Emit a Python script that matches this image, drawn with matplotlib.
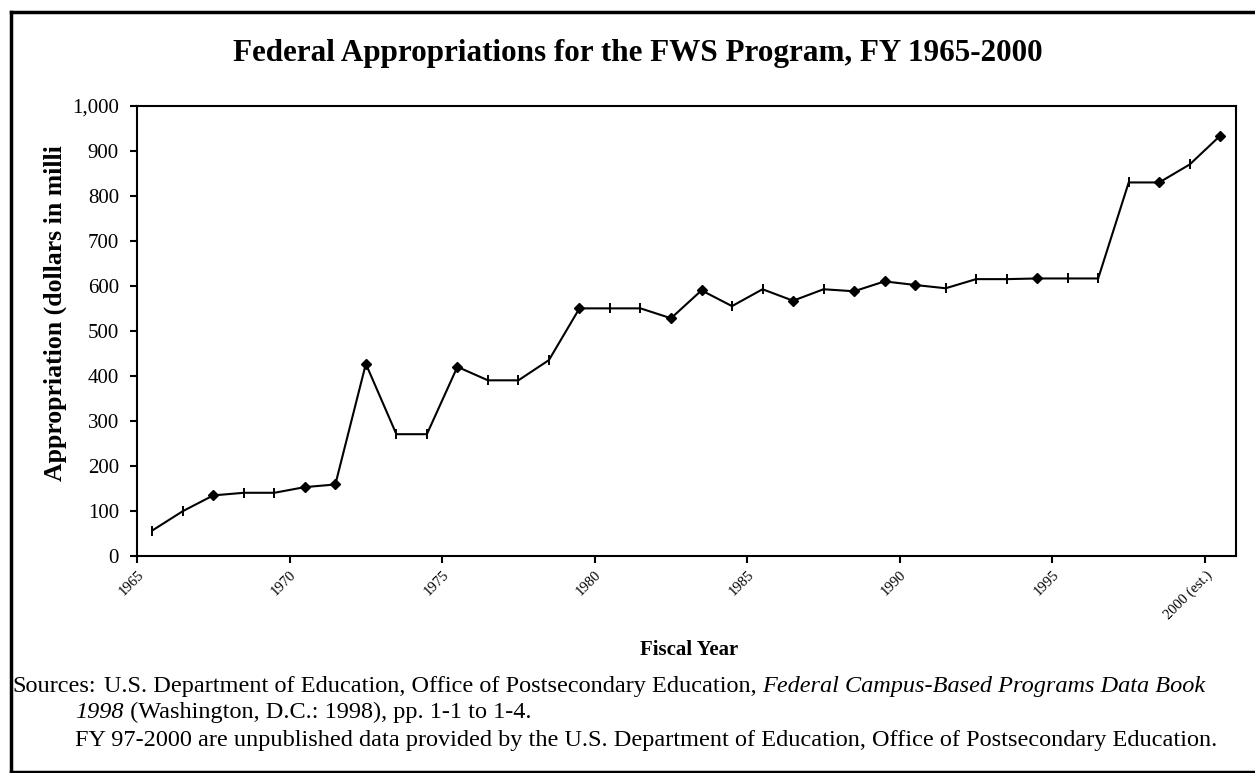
import matplotlib
matplotlib.use("Agg")
import matplotlib.pyplot as plt
from matplotlib.lines import Line2D

# ---- data ----
years = list(range(1965, 2001))
appropriations = [56, 99, 134.1, 139.9, 139.9, 152.5, 158.4, 426.6, 270.2, 270.2,
                  420, 390, 390, 435, 550, 550, 550, 528, 590, 555,
                  592.5, 567, 592.5, 588, 610, 602, 594.7, 615, 615, 616.5,
                  616.5, 616.5, 830, 830, 870, 934]
diamond_years = [1967, 1970, 1971, 1972, 1975, 1979, 1982, 1983, 1986, 1988,
                 1989, 1990, 1994, 1998, 2000]
tick_labels = ["1965", "1970", "1975", "1980", "1985", "1990", "1995", "2000 (est.)"]
label_years = [1965, 1970, 1975, 1980, 1985, 1990, 1995, 2000]
y_ticks = [0, 100, 200, 300, 400, 500, 600, 700, 800, 900, 1000]

title = "Federal Appropriations for the FWS Program, FY 1965-2000"
ylabel = "Appropriation (dollars in milli"
xlabel = "Fiscal Year"

plt.rcParams['font.family'] = ['Liberation Serif', 'DejaVu Serif']

W, H = 1255, 773
fig = plt.figure(figsize=(W / 100, H / 100), dpi=100)
fig.patch.set_facecolor("white")

left, right, top, bottom = 137, 1235.5, 106, 555.7
ax = fig.add_axes([left / W, 1 - bottom / H, (right - left) / W, (bottom - top) / H])

ax.plot(years, appropriations, color="black", lw=1.5, zorder=2)
d_x = [y for y in years if y in diamond_years]
d_v = [v for y, v in zip(years, appropriations) if y in diamond_years]
t_x = [y for y in years if y not in diamond_years]
t_v = [v for y, v in zip(years, appropriations) if y not in diamond_years]
ax.plot(d_x, d_v, linestyle="none", marker="D", ms=5, color="black", zorder=3)
ax.plot(t_x, t_v, linestyle="none", marker="|", ms=7, mew=1.4, color="black", zorder=3)

ax.set_xlim(1964.5, 2000.5)
ax.set_ylim(0, 1000)
ax.set_yticks(y_ticks)
ax.set_yticklabels([f"{v:,}" for v in y_ticks], fontsize=15)
ax.set_xticks([y - 0.5 for y in label_years])
ax.set_xticklabels(tick_labels, rotation=45, ha="right", va="top",
                   rotation_mode="anchor", fontsize=10.5)
ax.tick_params(axis="both", direction="out", length=5, width=1.5, color="black")
ax.tick_params(axis="y", pad=8)
ax.tick_params(axis="x", pad=4)
for s in ax.spines.values():
    s.set_linewidth(1.5)
    s.set_color("black")

fig.text(638 / W, 1 - 53 / H, title, ha="center", va="center",
         fontsize=22.4, fontweight="bold")
fig.text(55 / W, 1 - 313 / H, ylabel, ha="center", va="center",
         rotation=90, fontsize=18.5, fontweight="bold")
fig.text(689 / W, 1 - 650 / H, xlabel, ha="center", va="center",
         fontsize=15, fontweight="bold")

fs = 17.5
r = fig.canvas.get_renderer()
y1, y2, y3 = 1 - 692 / H, 1 - 718 / H, 1 - 746 / H
t0 = fig.text(12 / W, y1, "Sources:", ha="left", va="baseline", fontsize=fs)
bb0 = t0.get_window_extent(r)
t1 = fig.text((bb0.x1 + 8) / W, y1,
              "U.S. Department of Education, Office of Postsecondary Education, ",
              ha="left", va="baseline", fontsize=fs)
bb = t1.get_window_extent(r)
fig.text(bb.x1 / W, y1, "Federal Campus-Based Programs Data Book",
         ha="left", va="baseline", fontsize=fs, style="italic")
t3 = fig.text(75 / W, y2, "1998", ha="left", va="baseline", fontsize=fs, style="italic")
bb3 = t3.get_window_extent(r)
fig.text(bb3.x1 / W, y2, " (Washington, D.C.: 1998), pp. 1-1 to 1-4.",
         ha="left", va="baseline", fontsize=fs)
fig.text(75 / W, y3,
         "FY 97-2000 are unpublished data provided by the U.S. Department of Education, Office of Postsecondary Education.",
         ha="left", va="baseline", fontsize=fs)

# outer frame
lw = 2.5
fig.add_artist(Line2D([10.5 / W, 10.5 / W], [0, 1 - 12 / H], transform=fig.transFigure, color="black", lw=lw))
fig.add_artist(Line2D([10.5 / W, 1], [1 - 12 / H, 1 - 12 / H], transform=fig.transFigure, color="black", lw=lw))
fig.add_artist(Line2D([10.5 / W, 1], [1.5 / H, 1.5 / H], transform=fig.transFigure, color="black", lw=lw))

fig.savefig("out.png", dpi=100, facecolor="white")
